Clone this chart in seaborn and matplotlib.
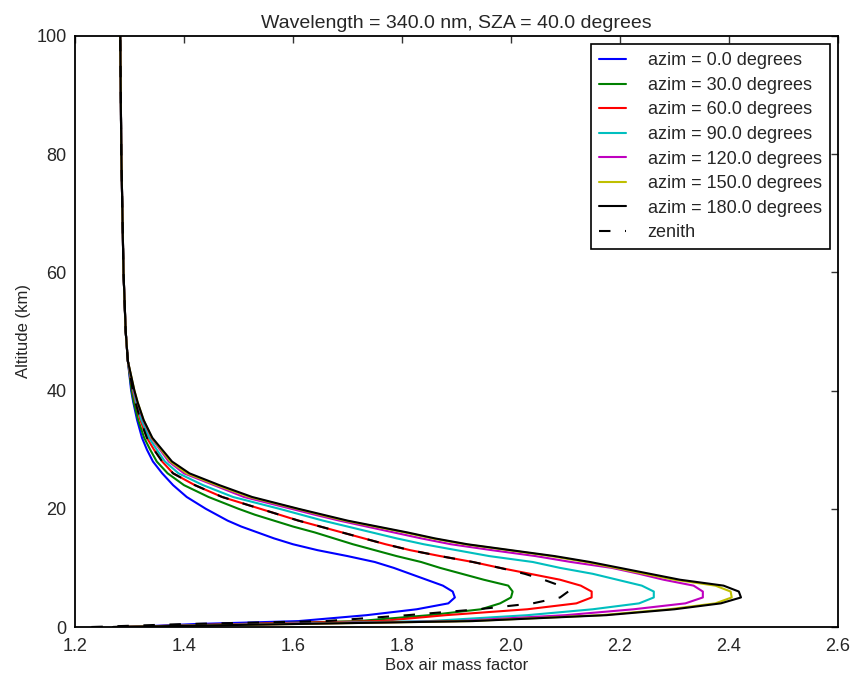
import matplotlib
matplotlib.use("Agg")
import matplotlib.pyplot as plt
import seaborn as sns
import pandas as pd

# Altitude grid (km)
altitude = [0, 0.5, 1, 2, 3, 4, 5, 6, 7, 8, 9, 10, 11, 12, 13, 14, 15, 16, 17, 18, 19, 20,
            22, 24, 26, 28, 30, 32, 35, 38, 40, 45, 50, 60, 70, 80, 90, 100]

top_common = [1.297, 1.293, 1.289, 1.287, 1.285, 1.284, 1.283]  # 45..100 km

bamf_az0 = [1.30, 1.42, 1.61, 1.735, 1.827, 1.885, 1.897, 1.893, 1.875, 1.845, 1.815, 1.785,
            1.75, 1.70, 1.645, 1.60, 1.565, 1.535, 1.505, 1.48, 1.46, 1.44,
            1.405, 1.38, 1.36, 1.343, 1.332, 1.323, 1.314, 1.307, 1.303] + top_common
bamf_az30 = [1.29, 1.50, 1.72, 1.85, 1.945, 1.98, 2.0, 2.003, 1.995, 1.95, 1.91, 1.87,
             1.835, 1.79, 1.75, 1.71, 1.675, 1.64, 1.60, 1.565, 1.53, 1.50,
             1.445, 1.40, 1.37, 1.35, 1.338, 1.327, 1.316, 1.308, 1.304] + top_common
bamf_az60 = [1.28, 1.50, 1.76, 1.88, 2.03, 2.12, 2.148, 2.148, 2.128, 2.09, 2.035, 1.98,
             1.93, 1.87, 1.815, 1.77, 1.73, 1.69, 1.65, 1.61, 1.575, 1.54,
             1.47, 1.42, 1.38, 1.36, 1.345, 1.332, 1.320, 1.311, 1.306] + top_common
bamf_az90 = [1.27, 1.55, 1.85, 2.03, 2.15, 2.235, 2.262, 2.262, 2.24, 2.195, 2.15, 2.09,
             2.04, 1.96, 1.90, 1.84, 1.79, 1.745, 1.70, 1.655, 1.615, 1.575,
             1.49, 1.435, 1.39, 1.365, 1.35, 1.336, 1.322, 1.312, 1.307] + top_common
bamf_az120 = [1.27, 1.58, 1.90, 2.10, 2.225, 2.32, 2.352, 2.352, 2.335, 2.28, 2.235, 2.185,
              2.11, 2.045, 1.965, 1.89, 1.835, 1.785, 1.735, 1.685, 1.64, 1.597,
              1.51, 1.455, 1.40, 1.372, 1.356, 1.340, 1.325, 1.314, 1.308] + top_common
bamf_az150 = [1.27, 1.60, 1.925, 2.165, 2.29, 2.375, 2.405, 2.403, 2.375, 2.30, 2.245, 2.192,
              2.138, 2.073, 1.995, 1.915, 1.855, 1.805, 1.75, 1.695, 1.65, 1.607,
              1.52, 1.46, 1.405, 1.375, 1.358, 1.341, 1.326, 1.315, 1.309] + top_common
bamf_az180 = [1.27, 1.60, 1.93, 2.175, 2.30, 2.385, 2.422, 2.418, 2.39, 2.31, 2.255, 2.20,
              2.145, 2.08, 2.00, 1.92, 1.86, 1.81, 1.755, 1.70, 1.655, 1.61,
              1.525, 1.465, 1.41, 1.378, 1.36, 1.342, 1.326, 1.315, 1.309] + top_common
bamf_zenith = [1.23, 1.40, 1.66, 1.81, 1.94, 2.04, 2.09, 2.105, 2.09, 2.06, 2.025, 1.98,
               1.93, 1.87, 1.815, 1.77, 1.73, 1.69, 1.65, 1.61, 1.575, 1.54,
               1.47, 1.42, 1.38, 1.36, 1.345, 1.332, 1.320, 1.311, 1.306] + top_common

labels = ["azim = 0.0 degrees", "azim = 30.0 degrees", "azim = 60.0 degrees",
          "azim = 90.0 degrees", "azim = 120.0 degrees", "azim = 150.0 degrees",
          "azim = 180.0 degrees", "zenith"]
series = [bamf_az0, bamf_az30, bamf_az60, bamf_az90, bamf_az120, bamf_az150, bamf_az180, bamf_zenith]
colors = ["#0000ff", "#008000", "#ff0000", "#00bfbf", "#bf00bf", "#bfbf00", "#000000", "#000000"]

x_ticks = [1.2, 1.4, 1.6, 1.8, 2.0, 2.2, 2.4, 2.6]
y_ticks = [0, 20, 40, 60, 80, 100]

sns.set_style("white")
plt.rcParams["font.family"] = ["Liberation Sans", "DejaVu Sans"]
plt.rcParams["xtick.direction"] = "in"
plt.rcParams["ytick.direction"] = "in"

fig = plt.figure(figsize=(8.51, 6.75), dpi=100)
ax = fig.add_axes([75 / 851, 48 / 675, 763 / 851, 591 / 675])

for lab, vals, col in zip(labels, series, colors):
    df = pd.DataFrame({"bamf": vals, "alt": altitude})
    sns.lineplot(data=df, x="bamf", y="alt", sort=False, estimator=None, color=col,
                 linewidth=1.5, label=lab, ax=ax)
    if lab == "zenith":
        ax.lines[-1].set_dashes((5.5, 7))

ax.set_xlim(1.2, 2.6)
ax.set_ylim(0, 100)
ax.set_xticks(x_ticks)
ax.set_xticklabels([f"{t:.1f}" for t in x_ticks])
ax.set_yticks(y_ticks)
ax.set_yticklabels([str(t) for t in y_ticks])
ax.tick_params(axis="both", which="major", labelsize=13, direction="in", length=5, width=1,
               top=True, right=True, color="#333333", pad=5)
ax.tick_params(axis="x", pad=8)
ax.tick_params(axis="y", pad=6)
for s in ax.spines.values():
    s.set_linewidth(1.3)
    s.set_color("black")

ax.set_xlabel("Box air mass factor", fontsize=12, labelpad=2)
ax.set_ylabel("Altitude (km)", fontsize=12)
ax.set_title("Wavelength = 340.0 nm, SZA = 40.0 degrees", fontsize=14, pad=6)

leg = ax.legend(loc="upper right", fontsize=13, frameon=True, fancybox=False,
                edgecolor="black", framealpha=1, handlelength=1.5, handletextpad=1.2,
                labelspacing=0.42, borderaxespad=0.45, borderpad=0.45)
leg.get_frame().set_linewidth(1.2)

fig.savefig("out.png", dpi=100)
